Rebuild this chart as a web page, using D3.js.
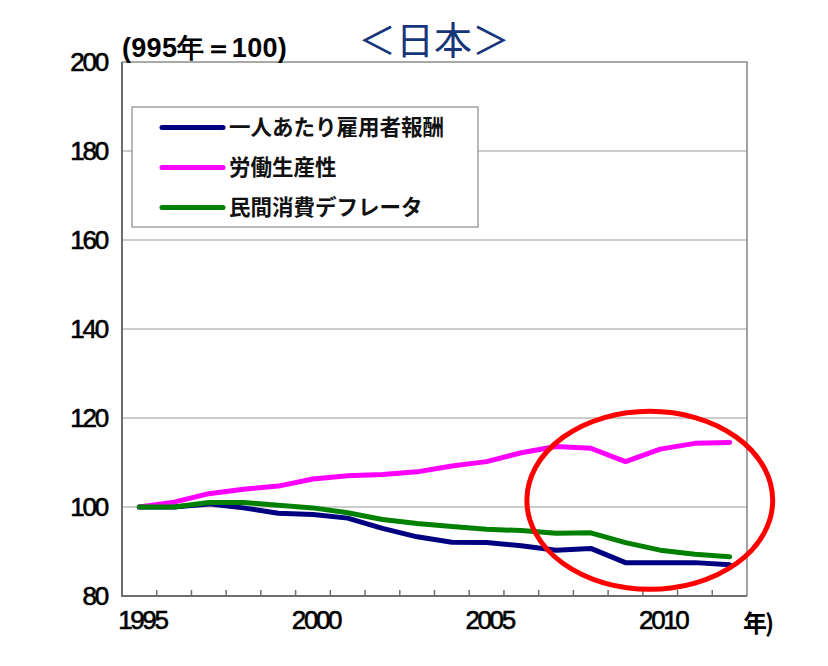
<!DOCTYPE html>
<html><head><meta charset="utf-8">
<script src="https://cdn.jsdelivr.net/npm/d3@7/dist/d3.min.js"></script>
<style>
html,body{margin:0;padding:0;background:#fff;}
svg{display:block;}
</style></head>
<body>
<svg id="c" width="828" height="666"></svg>
<script>
const years = d3.range(1995, 2013);
const labelYears = [1995, 2000, 2005, 2010];
const yTicks = [80, 100, 120, 140, 160, 180, 200];
const seriesNames = ["一人あたり雇用者報酬", "労働生産性", "民間消費デフレータ"];
const compensation = [100, 100, 100.7, 99.8, 98.6, 98.3, 97.5, 95.2, 93.3, 92.1, 92.0, 91.3, 90.3, 90.7, 87.5, 87.5, 87.5, 87.0];
const productivity = [100, 101.1, 103.0, 104.0, 104.7, 106.3, 107.0, 107.3, 107.9, 109.2, 110.2, 112.2, 113.6, 113.2, 110.2, 113.0, 114.3, 114.5];
const deflator = [100, 100, 101.0, 101.0, 100.4, 99.8, 98.7, 97.2, 96.3, 95.6, 95.0, 94.7, 94.1, 94.2, 92.0, 90.3, 89.4, 88.8];
const colors = ["#000080", "#ff00ff", "#008000"];
const title = "＜日本＞";
const unitLabel = "(995年＝100)";
const xUnit = "年)";
// annotation ellipse (in data units): center year, center value, half-width years, half-height value
const highlight = {year: 2009.7, value: 101.5, halfYears: 3.54, halfValue: 20};

const svg = d3.select("#c");
const L = 122, R = 747, T = 62, B = 596;
const x = d3.scaleBand().domain(years).range([L, R]);
const bw = x.bandwidth();
const cx = d => x(d) + bw / 2;
const y = d3.scaleLinear().domain([80, 200]).range([B, T]);
const xYear = d3.scaleLinear().domain([1995, 2012]).range([cx(1995), cx(2012)]);

const numFont = "'Liberation Sans', Arial, sans-serif";
const jpFont = "'Noto Sans CJK JP', sans-serif";

// gridlines
svg.append("g").selectAll("line").data(yTicks.filter(v => v > 80 && v < 200)).join("line")
  .attr("x1", L).attr("x2", R).attr("y1", d => y(d)).attr("y2", d => y(d))
  .attr("stroke", "#9a9a9a").attr("stroke-width", 1.2);

// frame top/right
svg.append("path").attr("d", `M${L},${T}H${R}V${B}`).attr("fill", "none")
  .attr("stroke", "#8c8c8c").attr("stroke-width", 1.6);

// left and bottom axes
svg.append("path").attr("d", `M${L},${T}V${B}H${R}`).attr("fill", "none")
  .attr("stroke", "#6e6e6e").attr("stroke-width", 2);

// inner x ticks at band boundaries
svg.append("g").selectAll("line").data(years.slice(1)).join("line")
  .attr("x1", d => x(d)).attr("x2", d => x(d)).attr("y1", B).attr("y2", B - 6)
  .attr("stroke", "#6e6e6e").attr("stroke-width", 1.5);

// y labels
svg.append("g").selectAll("text").data(yTicks).join("text")
  .attr("x", 107).attr("y", d => y(d)).attr("dy", "0.36em")
  .attr("text-anchor", "end").attr("font-family", numFont).attr("font-size", 26)
  .attr("letter-spacing", -2.2).attr("fill", "#000").attr("stroke", "#000").attr("stroke-width", 0.6)
  .text(d => d);

// x labels
const xAxis = d3.axisBottom(x).tickValues(labelYears).tickSize(0).tickPadding(0);
const gx = svg.append("g").attr("transform", `translate(0,${B})`).call(xAxis);
gx.select(".domain").remove();
gx.selectAll("text").attr("y", 24).attr("dy", "0.36em").attr("dx", 3)
  .attr("font-family", numFont).attr("font-size", 26).attr("letter-spacing", -2.4)
  .attr("fill", "#000").attr("stroke", "#000").attr("stroke-width", 0.6);

svg.append("text").attr("x", 743).attr("y", 623).attr("dy", "0.36em")
  .attr("font-family", jpFont).attr("font-weight", "bold").attr("font-size", 24)
  .attr("letter-spacing", -2).text(xUnit);

// unit label
svg.append("text").attr("x", 122).attr("y", 57)
  .attr("font-family", numFont).attr("font-weight", "bold").attr("font-size", 27)
  .attr("letter-spacing", 0.3).attr("fill", "#000").text(unitLabel);

// title
svg.append("text").attr("x", 434).attr("y", 54).attr("text-anchor", "middle")
  .attr("font-family", jpFont).attr("font-size", 38).attr("fill", "#17367a").text(title);

// legend
const lg = svg.append("g");
lg.append("rect").attr("x", 132).attr("y", 107).attr("width", 346).attr("height", 120)
  .attr("fill", "#fff").attr("stroke", "#8c8c8c").attr("stroke-width", 1.2);
const legendY = [127.5, 167.5, 207.5];
seriesNames.forEach((n, i) => {
  lg.append("line").attr("x1", 162).attr("x2", 223).attr("y1", legendY[i]).attr("y2", legendY[i])
    .attr("stroke", colors[i]).attr("stroke-width", 5).attr("stroke-linecap", "round");
  lg.append("text").attr("x", 229).attr("y", legendY[i]).attr("dy", "0.36em")
    .attr("font-family", jpFont).attr("font-weight", "bold").attr("font-size", 21.5)
    .attr("fill", "#111").text(n);
});

// lines
const line = d3.line().x((d, i) => cx(years[i])).y(d => y(d));
[[compensation, 0], [productivity, 1], [deflator, 2]].forEach(([data, i]) => {
  svg.append("path").datum(data).attr("d", line).attr("fill", "none")
    .attr("stroke", colors[i]).attr("stroke-width", 5)
    .attr("stroke-linecap", "round").attr("stroke-linejoin", "round");
});

// highlight ellipse
svg.append("ellipse")
  .attr("cx", xYear(highlight.year)).attr("cy", y(highlight.value))
  .attr("rx", xYear(highlight.year + highlight.halfYears) - xYear(highlight.year))
  .attr("ry", y(highlight.value - highlight.halfValue) - y(highlight.value))
  .attr("fill", "none").attr("stroke", "#ff0000").attr("stroke-width", 5);
</script>
</body></html>
